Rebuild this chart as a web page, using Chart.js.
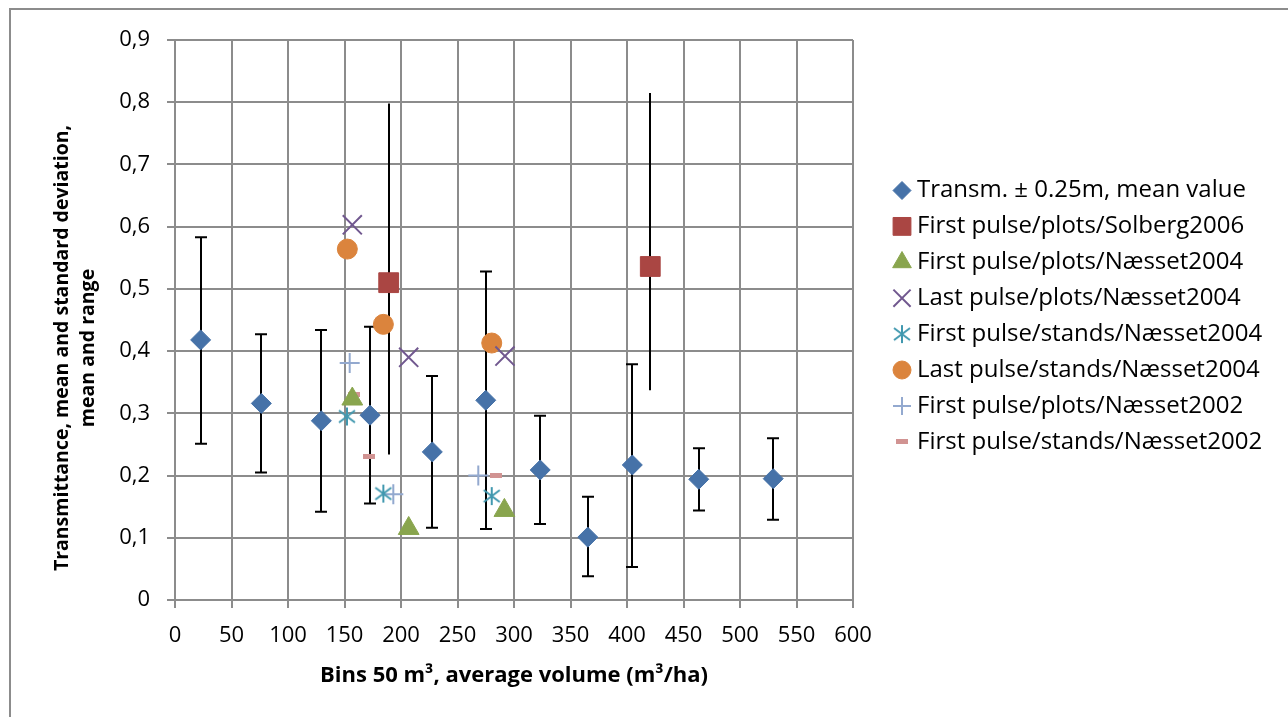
<!DOCTYPE html>
<html>
<head>
<meta charset="utf-8">
<script src="https://cdn.jsdelivr.net/npm/chart.js@4.4.0/dist/chart.umd.min.js"></script>
<style>
  html, body { margin: 0; background: #fff; overflow: hidden; }
  #frame { position: absolute; left: 9px; top: 8px; right: 0; bottom: 0; border-left: 2px solid #8c8c8c; border-top: 2px solid #8c8c8c; }
  canvas { position: absolute; left: 0; top: 0; }
</style>
</head>
<body>
<div id="frame"></div>
<canvas id="transmittance" width="1288" height="717"></canvas>
<script>
// bins (m3/ha) and transmittance mean with range
const binX = [22.7, 76.4, 129.5, 172.6, 227.7, 275.0, 323.2, 365.3, 404.7, 463.5, 529.4];
const transmMean = [0.418, 0.316, 0.288, 0.297, 0.238, 0.321, 0.209, 0.101, 0.217, 0.194, 0.195];
const transmHigh = [0.583, 0.427, 0.434, 0.439, 0.360, 0.528, 0.296, 0.166, 0.379, 0.244, 0.260];
const transmLow = [0.251, 0.205, 0.142, 0.155, 0.116, 0.114, 0.122, 0.038, 0.053, 0.144, 0.129];

const solbergX = [189.1, 420.6];
const solbergMean = [0.510, 0.536];
const solbergHigh = [0.798, 0.815];
const solbergLow = [0.234, 0.337];

const fpPlots04X = [156.9, 206.8, 291.5];
const fpPlots04Y = [0.323, 0.115, 0.144];
const lpPlots04X = [156.9, 206.8, 292.0];
const lpPlots04Y = [0.603, 0.390, 0.392];
const fpStands04X = [152.2, 184.4, 280.3];
const fpStands04Y = [0.295, 0.171, 0.167];
const lpStands04X = [152.5, 184.4, 280.3];
const lpStands04Y = [0.564, 0.443, 0.413];
const fpPlots02X = [154.6, 193.2, 268.4];
const fpPlots02Y = [0.381, 0.170, 0.200];
const fpStands02X = [158.7, 171.7, 284.0];
const fpStands02Y = [0.331, 0.230, 0.200];

const seriesLabels = [
  'Transm. \u00b1 0.25m, mean value',
  'First pulse/plots/Solberg2006',
  'First pulse/plots/N\u00e6sset2004',
  'Last pulse/plots/N\u00e6sset2004',
  'First pulse/stands/N\u00e6sset2004',
  'Last pulse/stands/N\u00e6sset2004',
  'First pulse/plots/N\u00e6sset2002',
  'First pulse/stands/N\u00e6sset2002'
];
const yTitleLines = ['Transmittance, mean and standard deviation,', 'mean and range'];

const pts = (xs, ys) => xs.map((v, i) => ({ x: v, y: ys[i] }));

const FONT = "'Open Sans', sans-serif";
Chart.defaults.font.family = FONT;
Chart.defaults.color = '#000';

function makeAsterisk(color) {
  const c = document.createElement('canvas');
  c.width = 20; c.height = 20;
  const g = c.getContext('2d');
  g.strokeStyle = color;
  g.lineWidth = 2;
  g.beginPath();
  g.moveTo(10, 1); g.lineTo(10, 19);
  g.moveTo(2, 4); g.lineTo(18, 16);
  g.moveTo(2, 16); g.lineTo(18, 4);
  g.stroke();
  return c;
}

function makeDash(color) {
  const c = document.createElement('canvas');
  c.width = 12; c.height = 5;
  const g = c.getContext('2d');
  g.fillStyle = color;
  g.fillRect(0, 0, 12, 5);
  return c;
}

// error bars go under the markers
const errorBars = {
  id: 'errorBars',
  beforeDatasetsDraw(chart) {
    const { ctx, scales: { x, y } } = chart;
    ctx.save();
    ctx.strokeStyle = '#000';
    ctx.lineWidth = 2;
    const draw = (xs, lows, highs, cap) => {
      xs.forEach((v, i) => {
        const px = Math.round(x.getPixelForValue(v));
        const top = y.getPixelForValue(highs[i]);
        const bot = y.getPixelForValue(lows[i]);
        ctx.beginPath();
        ctx.moveTo(px, top);
        ctx.lineTo(px, bot);
        if (cap) {
          ctx.moveTo(px - cap, top); ctx.lineTo(px + cap, top);
          ctx.moveTo(px - cap, bot); ctx.lineTo(px + cap, bot);
        }
        ctx.stroke();
      });
    };
    draw(binX, transmLow, transmHigh, 6);
    draw(solbergX, solbergLow, solbergHigh, 0);
    ctx.restore();
  }
};

// legend to the right of the plot, same markers as the datasets
const sideLegend = {
  id: 'sideLegend',
  afterDraw(chart) {
    const { ctx } = chart;
    const left = chart.chartArea.right + 49;
    ctx.save();
    chart.data.datasets.forEach((ds, i) => {
      const y = 190.5 + i * 35.9;
      ctx.fillStyle = ds.backgroundColor;
      ctx.strokeStyle = ds.borderColor;
      ctx.lineWidth = ds.borderWidth;
      Chart.helpers.drawPoint(ctx, {
        pointStyle: ds.pointStyle,
        radius: ds.pointRadius * 0.9,
        borderWidth: ds.borderWidth,
        rotation: 0
      }, left, y);
      ctx.fillStyle = '#000';
      ctx.font = '24px ' + FONT;
      ctx.textBaseline = 'middle';
      ctx.textAlign = 'left';
      ctx.fillText(ds.label, left + 15, y);
    });
    ctx.restore();
  }
};

// rotated y title, centred a bit below the middle of the plot as in the original
const yTitle = {
  id: 'yTitle',
  afterDraw(chart) {
    const { ctx, chartArea } = chart;
    const cy = (chartArea.top + chartArea.bottom) / 2 + 28;
    ctx.save();
    ctx.font = 'bold 19.5px ' + FONT;
    ctx.fillStyle = '#000';
    ctx.textAlign = 'center';
    ctx.textBaseline = 'middle';
    yTitleLines.forEach((line, i) => {
      ctx.save();
      ctx.translate(62 + i * 26, cy);
      ctx.rotate(-Math.PI / 2);
      ctx.fillText(line, 0, 0);
      ctx.restore();
    });
    ctx.restore();
  }
};

const gridColor = '#8c8c8c';

const ctx = document.getElementById('transmittance');
new Chart(ctx, {
  type: 'scatter',
  data: {
    datasets: [
      { label: seriesLabels[0], data: pts(binX, transmMean), pointStyle: 'rectRot', pointRadius: 10,
        backgroundColor: '#4672A8', borderColor: '#4672A8', borderWidth: 1 },
      { label: seriesLabels[1], data: pts(solbergX, solbergMean), pointStyle: 'rect', pointRadius: 14,
        backgroundColor: '#AA4643', borderColor: '#AA4643', borderWidth: 1 },
      { label: seriesLabels[2], data: pts(fpPlots04X, fpPlots04Y), pointStyle: 'triangle', pointRadius: 12,
        backgroundColor: '#89A54E', borderColor: '#89A54E', borderWidth: 1 },
      { label: seriesLabels[3], data: pts(lpPlots04X, lpPlots04Y), pointStyle: 'crossRot', pointRadius: 13.5,
        backgroundColor: '#71588F', borderColor: '#71588F', borderWidth: 2 },
      { label: seriesLabels[4], data: pts(fpStands04X, fpStands04Y), pointStyle: makeAsterisk('#4198AF'), pointRadius: 9,
        backgroundColor: '#4198AF', borderColor: '#4198AF', borderWidth: 2 },
      { label: seriesLabels[5], data: pts(lpStands04X, lpStands04Y), pointStyle: 'circle', pointRadius: 10,
        backgroundColor: '#DB843D', borderColor: '#DB843D', borderWidth: 1 },
      { label: seriesLabels[6], data: pts(fpPlots02X, fpPlots02Y), pointStyle: 'cross', pointRadius: 10,
        backgroundColor: '#93A9CF', borderColor: '#93A9CF', borderWidth: 2 },
      { label: seriesLabels[7], data: pts(fpStands02X, fpStands02Y), pointStyle: makeDash('#D19392'), pointRadius: 6,
        backgroundColor: '#D19392', borderColor: '#D19392', borderWidth: 1 }
    ]
  },
  options: {
    responsive: false,
    animation: false,
    devicePixelRatio: 1,
    layout: { padding: { left: 0, top: 40, right: 435, bottom: 0 } },
    plugins: {
      legend: { display: false },
      tooltip: { enabled: false }
    },
    scales: {
      x: {
        type: 'linear',
        min: 0,
        max: 600,
        afterFit(scale) { scale.height = 117; },
        ticks: { stepSize: 50, padding: 15, font: { size: 22 } },
        grid: { color: gridColor, lineWidth: 2, tickLength: 8 },
        border: { color: gridColor, width: 2 },
        title: {
          display: true,
          text: 'Bins 50 m\u00b3, average volume (m\u00b3/ha)',
          font: { size: 22, weight: 'bold' },
          padding: { top: 0, bottom: 28 }
        }
      },
      y: {
        min: 0,
        max: 0.9,
        afterFit(scale) { scale.width = 175; },
        ticks: {
          stepSize: 0.1,
          padding: 17,
          font: { size: 22 },
          callback: v => v === 0 ? '0' : v.toFixed(1).replace('.', ',')
        },
        grid: { color: gridColor, lineWidth: 2, tickLength: 8 },
        border: { color: gridColor, width: 2 }
      }
    }
  },
  plugins: [errorBars, sideLegend, yTitle]
});
</script>
</body>
</html>
